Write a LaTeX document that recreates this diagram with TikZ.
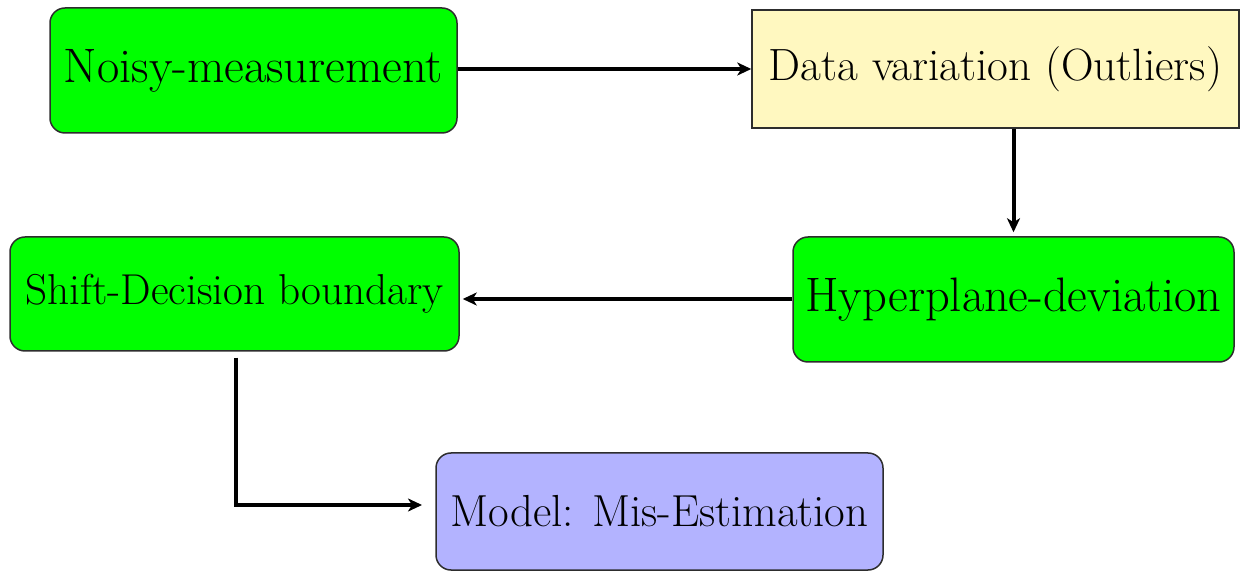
\documentclass[tikz,border=0pt]{standalone}
\usetikzlibrary{arrows.meta}
\definecolor{boxgreen}{RGB}{0,255,0}
\definecolor{boxyellow}{RGB}{255,248,192}
\definecolor{boxblue}{RGB}{179,179,255}
\definecolor{edgegray}{RGB}{45,45,45}
\tikzset{
  basebox/.style={draw=edgegray, line width=0.75pt, inner sep=0pt, align=center},
  roundbox/.style={basebox, rounded corners=7.5pt},
  flow/.style={line width=2pt, -{Stealth[length=7pt,width=6.5pt,inset=2pt]}},
}
\begin{document}
\begin{tikzpicture}[x=0.5pt,y=-0.5pt]
\useasboundingbox (0,0) rectangle (1241,576);
\node[roundbox, fill=boxgreen, minimum width=203.5pt, minimum height=62.5pt,
      font=\fontsize{24.2}{28}\selectfont] (noisy) at (253.5,70.5) {Noisy-measurement};
\node[basebox, fill=boxyellow, minimum width=243.5pt, minimum height=59pt,
      font=\fontsize{22.6}{26}\selectfont] (data) at (995.5,69) {Data variation (Outliers)};
\node[roundbox, fill=boxgreen, minimum width=220.5pt, minimum height=62.5pt,
      font=\fontsize{24.2}{28}\selectfont] (hyper) at (1013.5,299.5) {Hyperplane-deviation};
\node[roundbox, fill=boxgreen, minimum width=224.5pt, minimum height=57pt,
      font=\fontsize{21.6}{25}\selectfont] (shift) at (234.5,294) {Shift-Decision boundary};
\node[roundbox, fill=boxblue, minimum width=223.5pt, minimum height=58.5pt,
      font=\fontsize{22.45}{26}\selectfont] (model) at (659.5,511.5) {Model: Mis-Estimation};
\coordinate (modelin) at (436,505);
\draw[flow] (noisy.east |- data.west) -- (data.west);
\draw[flow, shorten >=2pt] (hyper.north |- data.south) -- (hyper.north);
\draw[flow, shorten >=1.5pt] (hyper.west |- 0,299) -- (shift.east |- 0,299);
\draw[flow, shorten <=3pt, shorten >=7pt] (shift.south -| 236,0) |- (modelin);
\end{tikzpicture}
\end{document}
